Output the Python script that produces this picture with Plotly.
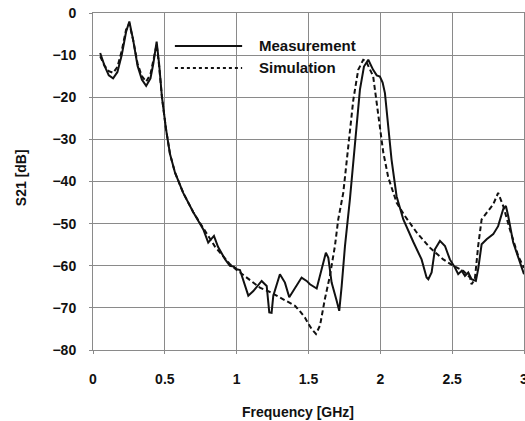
import plotly.graph_objects as go

# Measurement (frequency GHz, S21 dB)
meas_f = [0.05, 0.08, 0.11, 0.14, 0.17, 0.20, 0.23, 0.253, 0.28, 0.31, 0.34, 0.37, 0.40, 0.42, 0.443,
          0.46, 0.48, 0.508, 0.536, 0.571, 0.628, 0.698, 0.768, 0.802, 0.842, 0.87, 0.92, 0.953, 0.98,
          1.0, 1.023, 1.05, 1.081, 1.116, 1.174, 1.209, 1.227, 1.243, 1.255, 1.301, 1.336, 1.366, 1.406,
          1.452, 1.487, 1.51, 1.557, 1.585, 1.621, 1.638, 1.661, 1.696, 1.714, 1.731, 1.754, 1.788,
          1.835, 1.858, 1.886, 1.916, 1.95, 1.975, 1.997, 2.016, 2.032, 2.055, 2.078, 2.113, 2.16,
          2.229, 2.287, 2.322, 2.334, 2.357, 2.38, 2.415, 2.45, 2.484, 2.519, 2.542, 2.566, 2.589,
          2.612, 2.635, 2.665, 2.681, 2.705, 2.74, 2.786, 2.82, 2.855, 2.874, 2.89, 2.925, 2.971, 3.0]
meas_db = [-9.5, -12.5, -14.8, -15.5, -14.0, -10.0, -4.5, -2.0, -6.5, -12.5, -15.8, -17.3, -15.5, -12.0, -6.8,
           -12.0, -20.0, -27.5, -33.5, -37.9, -42.7, -47.3, -51.4, -54.5, -52.9, -55.5, -58.5, -60.0, -60.2,
           -60.8, -61.0, -64.0, -67.1, -66.0, -63.6, -64.8, -71.1, -71.2, -67.1, -62.0, -64.0, -67.5, -65.2,
           -62.8, -63.6, -64.4, -65.4, -61.6, -56.9, -58.1, -64.0, -68.3, -70.7, -64.8, -55.3, -44.3,
           -26.9, -18.2, -12.7, -11.1, -13.5, -14.8, -15.1, -16.5, -19.0, -26.5, -34.8, -43.5, -49.0,
           -54.3, -58.5, -62.8, -63.2, -61.6, -56.1, -54.1, -55.3, -58.5, -60.4, -62.0, -61.2, -62.4,
           -61.6, -63.2, -63.6, -60.8, -54.9, -53.7, -52.5, -50.6, -46.6, -45.8, -48.2, -54.5, -59.2, -62.0]

# Simulation
sim_f = [0.05, 0.08, 0.11, 0.14, 0.17, 0.20, 0.23, 0.253, 0.28, 0.31, 0.34, 0.37, 0.40, 0.42, 0.443,
         0.46, 0.48, 0.508, 0.536, 0.571, 0.628, 0.698, 0.768, 0.8, 0.85, 0.9, 0.95, 1.0, 1.05, 1.1,
         1.162, 1.23, 1.301, 1.36, 1.406, 1.44, 1.475, 1.50, 1.522, 1.552, 1.58, 1.614, 1.649, 1.684,
         1.707, 1.742, 1.777, 1.812, 1.846, 1.881, 1.90, 1.95, 1.985, 2.02, 2.055, 2.09, 2.113, 2.171,
         2.253, 2.345, 2.438, 2.507, 2.577, 2.624, 2.635, 2.658, 2.681, 2.705, 2.74, 2.786, 2.82,
         2.855, 2.902, 2.96, 3.0]
sim_db = [-10.3, -12.5, -13.8, -14.2, -12.8, -9.0, -4.0, -2.5, -6.5, -12.0, -15.0, -16.3, -14.5, -11.5, -7.5,
          -12.5, -20.0, -27.5, -33.5, -37.9, -42.7, -47.3, -51.2, -53.0, -55.5, -57.5, -59.5, -61.0, -62.3, -63.5,
          -65.2, -66.2, -67.5, -68.5, -69.5, -70.8, -72.3, -73.8, -75.0, -76.2, -74.2, -67.9, -62.4, -55.3,
          -49.0, -42.7, -32.4, -20.6, -13.5, -11.1, -11.4, -15.0, -24.0, -33.0, -39.0, -42.7, -45.0, -48.2,
          -52.1, -55.7, -58.5, -60.0, -61.2, -62.8, -64.4, -63.2, -55.3, -49.0, -47.4, -45.4, -42.7,
          -45.8, -51.4, -57.7, -60.5]

x_ticks = [0, 0.5, 1, 1.5, 2, 2.5, 3]
x_tick_text = ["0", "0.5", "1", "1.5", "2", "2.5", "3"]
y_ticks = [0, -10, -20, -30, -40, -50, -60, -70, -80]

FONT = "Liberation Sans, Arial, sans-serif"
GRID = "#8a8a8a"

fig = go.Figure()
fig.add_trace(go.Scatter(x=sim_f, y=sim_db, mode="lines", name="Simulation",
                         line=dict(color="#111111", width=2, dash="5px,3px")))
fig.add_trace(go.Scatter(x=meas_f, y=meas_db, mode="lines", name="Measurement",
                         line=dict(color="#111111", width=2)))

fig.update_layout(
    width=525, height=421,
    margin=dict(l=93, r=1, t=13, b=71),
    paper_bgcolor="white", plot_bgcolor="white",
    showlegend=False,
    font=dict(family=FONT, color="#111111"),
)
fig.update_xaxes(range=[0, 3], tickvals=x_ticks, ticktext=x_tick_text,
                 showgrid=True, gridcolor=GRID, gridwidth=1,
                 showline=True, linecolor=GRID, linewidth=1, mirror=True,
                 ticks="outside", ticklen=3, tickcolor=GRID,
                 ticklabelstandoff=13, ticklabeloverflow="allow", automargin=False,
                 tickfont=dict(family=FONT, size=14, weight="bold", color="#111111"),
                 zeroline=False)
fig.update_yaxes(range=[-80, 0], tickvals=y_ticks,
                 showgrid=True, gridcolor=GRID, gridwidth=1,
                 showline=True, linecolor=GRID, linewidth=1, mirror=True,
                 ticks="outside", ticklen=3, tickcolor=GRID,
                 ticklabelstandoff=10, ticklabeloverflow="allow", automargin=False,
                 tickfont=dict(family=FONT, size=14, weight="bold", color="#111111"),
                 zeroline=False)

# Axis titles
fig.add_annotation(text="Frequency [GHz]", xref="paper", yref="paper", x=0.476, y=-0.184,
                   xanchor="center", yanchor="middle",
                   showarrow=False, font=dict(family=FONT, size=14, weight="bold", color="#111111"))
fig.add_annotation(text="S21 [dB]", xref="paper", yref="paper", x=-0.167, y=0.51, textangle=-90,
                   xanchor="center", yanchor="middle",
                   showarrow=False, font=dict(family=FONT, size=14, weight="bold", color="#111111"))

# Legend (drawn inside the plot area)
fig.add_shape(type="line", xref="paper", yref="paper", x0=0.190, x1=0.346, y0=0.902, y1=0.902,
              line=dict(color="#111111", width=2))
fig.add_shape(type="line", xref="paper", yref="paper", x0=0.190, x1=0.346, y0=0.837, y1=0.837,
              line=dict(color="#111111", width=2, dash="dot"))
fig.add_annotation(text="Measurement", xref="paper", yref="paper", x=0.3805, y=0.905,
                   xanchor="left", yanchor="middle", showarrow=False,
                   font=dict(family=FONT, size=15, weight="bold", color="#111111"))
fig.add_annotation(text="Simulation", xref="paper", yref="paper", x=0.3805, y=0.837,
                   xanchor="left", yanchor="middle", showarrow=False,
                   font=dict(family=FONT, size=15, weight="bold", color="#111111"))

fig.write_html("out.html")
